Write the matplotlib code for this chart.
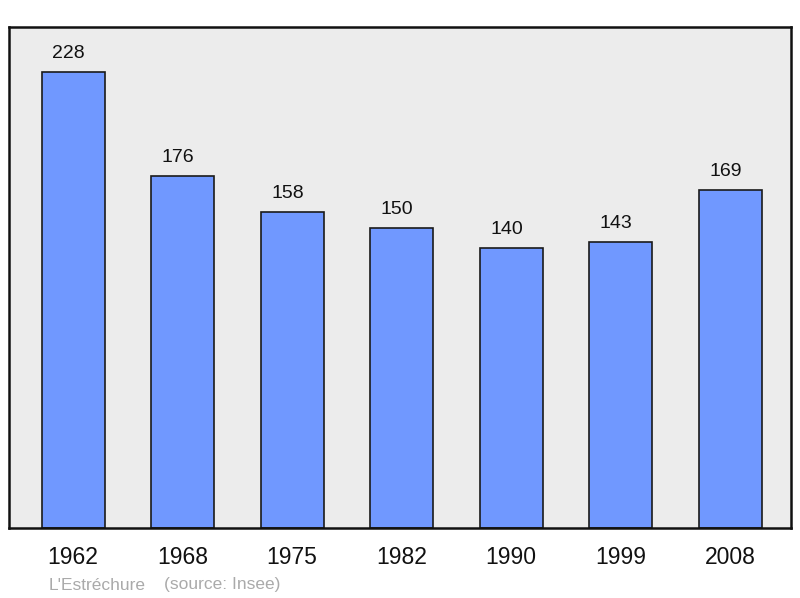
import numpy as np
from matplotlib import pyplot as plt

annees = ["1962", "1968", "1975", "1982", "1990", "1999", "2008"]
population = [228, 176, 158, 150, 140, 143, 169]

plt.rcParams['font.family'] = ['Liberation Sans', 'DejaVu Sans']

fig = plt.figure(figsize=(8, 5.98), dpi=100)
ax = fig.add_axes([9/800, 1-528/598, 782/800, 501/598])
ax.set_facecolor('#ececec')

x = np.arange(len(annees))
ax.bar(x, population, width=0.575, color='#7098ff', edgecolor='#1a1a1a', linewidth=1.2, zorder=2)

# etiquettes au-dessus des barres (un peu decalees a gauche comme l'original)
for xi, v in zip(x, population):
    ax.annotate(str(v), (xi, v), xytext=(-3.2, 7), textcoords='offset points',
                ha='center', va='bottom', fontsize=14, color='#111111')

ax.set_xlim(-0.585, 6.555)
ax.set_ylim(0, 250.5)
ax.set_xticks(x)
ax.set_xticklabels(annees, fontsize=16.5, color='#111111')
ax.tick_params(axis='x', length=0, pad=13)
ax.set_yticks([])
for s in ax.spines.values():
    s.set_linewidth(1.8)
    s.set_color('#111111')

fig.text(49/800, 1-585/598, "L'Estréchure", color='#aaaaaa', fontsize=12.5, va='center')
fig.text(164/800, 1-585/598, "(source: Insee)", color='#aaaaaa', fontsize=12.5, va='center')

plt.savefig('out.png', dpi=100)
